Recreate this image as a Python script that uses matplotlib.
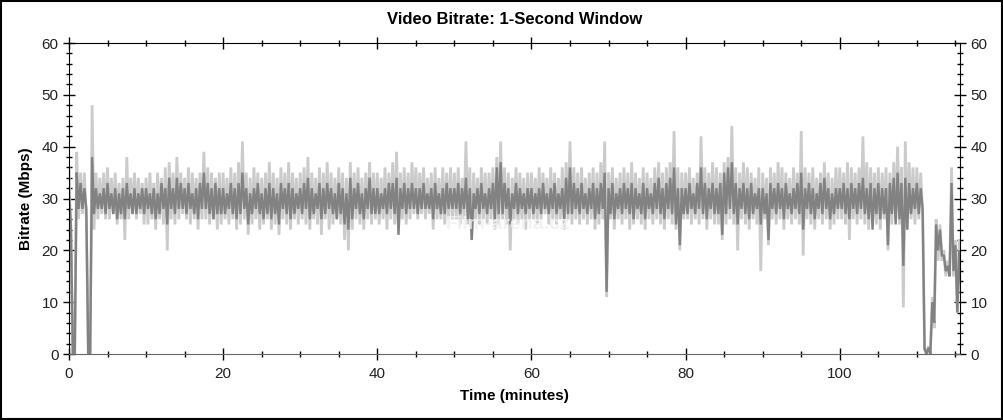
"""
Video bitrate over time, 1-second window (light = full range, dark = core band)
"""

import numpy as np
import matplotlib.pyplot as plt
from matplotlib.patches import Rectangle
from matplotlib.ticker import MultipleLocator

plt.rcParams["font.family"] = ["Liberation Sans", "DejaVu Sans"]

# sample step in minutes, one envelope value per half minute
step_min = 0.5

# light band (upper / lower edge, Mbps)
light_hi = [
    36, 0, 39, 35, 35, 0, 48, 35, 34, 35, 36, 34, 35, 33, 34, 38, 34, 35, 34, 33,
    34, 35, 33, 35, 34, 36, 37, 35, 38, 35, 34, 36, 35, 34, 35, 39, 36, 35, 34, 35,
    35, 34, 36, 35, 37, 41, 35, 34, 36, 35, 34, 35, 37, 35, 34, 36, 35, 37, 35, 34,
    35, 36, 38, 35, 34, 36, 35, 37, 35, 34, 36, 35, 34, 37, 35, 36, 34, 35, 37, 35,
    35, 34, 36, 35, 37, 39, 35, 36, 35, 37, 36, 35, 36, 34, 35, 36, 34, 36, 35, 36,
    35, 36, 34, 41, 36, 35, 34, 36, 35, 35, 36, 38, 41, 36, 35, 34, 36, 35, 34, 35,
    35, 34, 36, 35, 34, 36, 35, 34, 36, 37, 41, 36, 35, 36, 34, 35, 36, 35, 37, 41,
    35, 36, 34, 35, 36, 35, 37, 35, 34, 36, 35, 34, 36, 37, 35, 36, 37, 43, 36, 35,
    35, 36, 34, 35, 42, 36, 35, 37, 36, 35, 37, 38, 44, 36, 35, 37, 36, 35, 34, 36,
    35, 34, 36, 35, 37, 36, 35, 34, 36, 35, 43, 36, 35, 36, 34, 35, 37, 35, 34, 36,
    36, 35, 37, 36, 35, 36, 42, 37, 36, 35, 36, 35, 36, 35, 37, 40, 36, 41, 37, 36,
    36, 35, 1, 1.5, 11, 26, 25, 20, 18, 36, 22, 22,
]
light_lo = [
    22, 0, 26, 27, 26, 0, 24, 26, 27, 26, 26, 27, 25, 26, 22, 26, 27, 26, 27, 25,
    25, 26, 24, 26, 25, 20, 26, 25, 26, 27, 26, 25, 26, 24, 26, 26, 25, 26, 24, 25,
    26, 25, 26, 24, 25, 26, 23, 25, 26, 24, 25, 26, 24, 25, 23, 26, 25, 24, 26, 25,
    26, 25, 24, 26, 25, 23, 26, 24, 25, 26, 25, 22, 20, 24, 26, 25, 24, 26, 25, 26,
    25, 26, 24, 26, 25, 24, 26, 25, 26, 27, 26, 27, 26, 27, 24, 26, 26, 25, 26, 26,
    26, 25, 26, 25, 22, 26, 25, 26, 25, 26, 24, 25, 26, 25, 20, 26, 25, 26, 24, 26,
    26, 25, 26, 27, 25, 26, 25, 26, 24, 26, 25, 26, 25, 26, 25, 26, 24, 25, 26, 11,
    26, 24, 26, 25, 26, 24, 25, 26, 25, 24, 26, 25, 26, 25, 24, 26, 25, 24, 20, 26,
    26, 25, 26, 25, 26, 24, 26, 25, 25, 22, 25, 26, 25, 20, 26, 25, 24, 26, 25, 16,
    26, 21, 26, 25, 26, 24, 26, 25, 26, 25, 19, 26, 25, 24, 26, 25, 26, 24, 25, 26,
    26, 25, 22, 26, 25, 26, 25, 24, 26, 25, 24, 26, 20, 25, 26, 25, 9, 24, 26, 25,
    26, 27, 0, 0, 5, 18, 18, 15, 15, 15, 8, 12,
]

# dark band (upper / lower edge, Mbps)
dark_hi = [
    31, 0, 35, 33, 32, 0, 38, 32, 31, 32, 33, 31, 32, 31, 32, 33, 31, 32, 31, 32,
    32, 31, 32, 31, 33, 32, 34, 32, 34, 33, 32, 33, 31, 32, 33, 35, 33, 32, 33, 32,
    32, 31, 33, 32, 33, 35, 32, 31, 32, 33, 31, 32, 33, 32, 31, 33, 32, 33, 32, 31,
    32, 33, 34, 32, 31, 33, 32, 33, 32, 31, 33, 32, 31, 34, 32, 33, 31, 32, 34, 32,
    32, 31, 32, 33, 33, 34, 32, 33, 32, 33, 32, 32, 33, 31, 32, 33, 31, 32, 33, 32,
    32, 33, 32, 34, 32, 31, 32, 33, 31, 32, 33, 36, 37, 33, 32, 31, 33, 32, 31, 32,
    32, 31, 32, 33, 31, 32, 33, 31, 32, 34, 36, 33, 32, 33, 31, 32, 33, 32, 33, 35,
    32, 33, 31, 32, 33, 32, 33, 32, 31, 33, 32, 31, 33, 34, 32, 33, 34, 36, 32, 32,
    32, 33, 31, 33, 36, 33, 32, 33, 32, 33, 35, 36, 37, 33, 32, 33, 32, 33, 31, 32,
    32, 31, 33, 32, 33, 32, 33, 31, 32, 33, 35, 32, 33, 32, 31, 33, 34, 32, 31, 32,
    32, 33, 32, 33, 32, 33, 34, 32, 33, 32, 33, 32, 32, 33, 34, 35, 33, 34, 33, 32,
    33, 32, 1, 1.2, 10, 25, 24, 19, 17, 33, 21, 20,
]
dark_lo = [
    25, 0, 28, 28, 28, 0, 27, 28, 28, 27, 28, 27, 26, 27, 26, 28, 27, 27, 28, 27,
    28, 27, 26, 27, 28, 25, 28, 27, 28, 28, 27, 28, 27, 26, 28, 28, 27, 26, 27, 27,
    27, 28, 27, 26, 27, 28, 25, 27, 28, 27, 26, 27, 26, 27, 25, 28, 27, 26, 27, 28,
    27, 28, 26, 27, 28, 26, 27, 28, 27, 26, 27, 25, 24, 26, 28, 27, 26, 28, 27, 27,
    27, 28, 27, 28, 27, 23, 28, 27, 28, 28, 27, 28, 28, 28, 26, 28, 27, 27, 28, 28,
    28, 27, 28, 26, 22, 28, 27, 28, 27, 28, 26, 27, 27, 28, 25, 28, 27, 28, 27, 28,
    27, 28, 27, 28, 27, 28, 27, 28, 26, 27, 27, 28, 27, 28, 27, 28, 26, 27, 28, 12,
    27, 26, 28, 27, 28, 27, 26, 28, 27, 26, 28, 27, 28, 27, 26, 28, 27, 25, 21, 27,
    27, 28, 27, 28, 27, 26, 28, 27, 27, 23, 27, 28, 27, 25, 28, 27, 26, 27, 28, 25,
    27, 22, 28, 27, 28, 26, 28, 27, 28, 27, 24, 28, 27, 26, 28, 27, 28, 26, 27, 28,
    28, 27, 26, 28, 27, 28, 27, 26, 24, 27, 26, 27, 21, 27, 25, 26, 17, 24, 27, 28,
    27, 28, 0, 0, 6, 20, 19, 16, 15, 16, 8, 13,
]

t = np.arange(len(light_hi)) * step_min


def zigzag(hi, lo):
    # each half-minute bin drawn as a stroke from its high to its low value
    x = np.column_stack([t, t + step_min / 2]).ravel()
    y = np.column_stack([hi, lo]).ravel()
    return x, y


LIGHT = "#cbcbcb"
DARK = "#828282"

fig = plt.figure(figsize=(10.04, 4.2), dpi=100)
ax = fig.add_axes([0.0687, 0.157, 0.8875, 0.7406])

lx, ly = zigzag(light_hi, light_lo)
dx, dy = zigzag(dark_hi, dark_lo)
ax.plot(lx, ly, color=LIGHT, linewidth=2.0, solid_joinstyle="miter")
ax.plot(dx, dy, color=DARK, linewidth=1.7, solid_joinstyle="miter")

# watermark
ax.text(57, 25, "Film-arena.cz", fontsize=14, fontweight="bold",
        color="#f0f0f0", alpha=0.85, ha="center", va="center")

ax.set_xlim(0, 115.6)
ax.set_ylim(0, 60)
ax.xaxis.set_major_locator(MultipleLocator(20))
ax.xaxis.set_minor_locator(MultipleLocator(5))
ax.yaxis.set_major_locator(MultipleLocator(10))
ax.yaxis.set_minor_locator(MultipleLocator(2))

ax.tick_params(axis="y", which="both", left=True, right=True, direction="inout",
               labelleft=True, labelright=True, labelsize=11, labelcolor="#222222")
ax.tick_params(axis="y", which="major", length=8, width=1)
ax.tick_params(axis="y", which="minor", length=5, width=1)
ax.tick_params(axis="x", which="both", bottom=True, top=True, direction="inout",
               labelsize=11, labelcolor="#222222")
ax.tick_params(axis="x", which="major", length=8, width=1, pad=5)
ax.tick_params(axis="x", which="minor", length=4, width=1)

for side in ["left", "right", "top"]:
    ax.spines[side].set_color("black")
ax.spines["bottom"].set_color("#666666")

ax.set_title("Video Bitrate: 1-Second Window", fontsize=12, fontweight="bold", pad=14)
ax.set_xlabel("Time (minutes)", fontsize=11, fontweight="bold", labelpad=6)
ax.set_ylabel("Bitrate (Mbps)", fontsize=11, fontweight="bold", labelpad=6)

# thin frame round the whole picture
fig.patches.append(Rectangle((0.001, 0.002), 0.997, 0.995, transform=fig.transFigure,
                             fill=False, edgecolor="black", linewidth=1.5))

fig.savefig("out.png", dpi=100)
print("Saved: out.png")
